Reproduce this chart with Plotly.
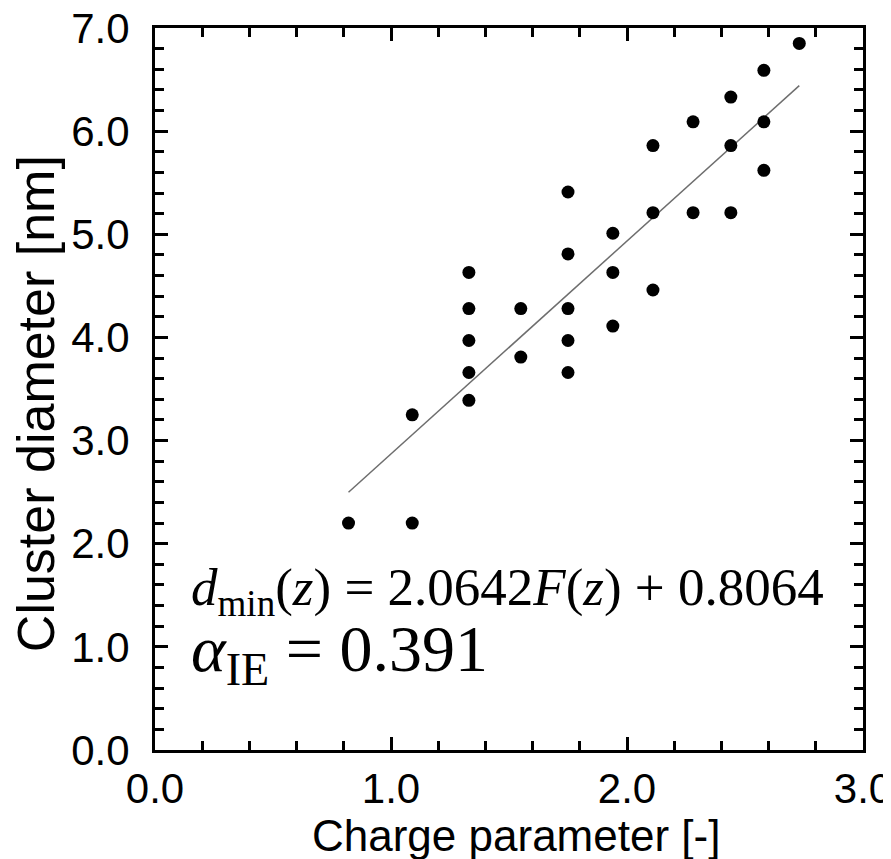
import plotly.graph_objects as go

# Data
charge = [0.82,
          1.09, 1.09,
          1.33, 1.33, 1.33, 1.33, 1.33,
          1.55, 1.55,
          1.75, 1.75, 1.75, 1.75, 1.75,
          1.94, 1.94, 1.94,
          2.11, 2.11, 2.11,
          2.28, 2.28,
          2.44, 2.44, 2.44,
          2.58, 2.58, 2.58,
          2.73]
diameter = [2.20,
            2.20, 3.25,
            3.39, 3.66, 3.97, 4.28, 4.63,
            3.81, 4.28,
            3.66, 3.97, 4.28, 4.81, 5.41,
            4.11, 4.63, 5.01,
            4.46, 5.21, 5.86,
            5.21, 6.09,
            5.21, 5.86, 6.33,
            5.62, 6.09, 6.59,
            6.85]

slope = 2.0642
intercept = 0.8064
fit_x = [0.82, 2.73]
fit_y = [slope * v + intercept for v in fit_x]

tick_vals = [0, 1, 2, 3]
tick_text = ["0.0", "1.0", "2.0", "3.0"]
ytick_vals = [0, 1, 2, 3, 4, 5, 6, 7]
ytick_text = ["0.0", "1.0", "2.0", "3.0", "4.0", "5.0", "6.0", "7.0"]

x_title = "Charge parameter [-]"
y_title = "Cluster diameter [nm]"

SANS = "Liberation Sans, Arial, sans-serif"
SERIF = "Liberation Serif, Times New Roman, serif"

fig = go.Figure()
fig.add_trace(go.Scatter(x=fit_x, y=fit_y, mode="lines",
                         line=dict(color="#6e6e6e", width=1.5),
                         showlegend=False, hoverinfo="skip"))
fig.add_trace(go.Scatter(x=charge, y=diameter, mode="markers",
                         marker=dict(color="black", size=13),
                         showlegend=False))

axis_common = dict(
    showline=True, linecolor="black", linewidth=3, mirror="ticks",
    ticks="inside", ticklen=13, tickwidth=3, tickcolor="black",
    showgrid=False, zeroline=False, automargin=False,
    ticklabeloverflow="allow",
    tickfont=dict(family=SANS, size=42, color="black"),
    minor=dict(dtick=0.2, ticks="inside", ticklen=9, tickwidth=3, tickcolor="black", showgrid=False),
)

fig.update_xaxes(range=[0, 3], tickvals=tick_vals, ticktext=tick_text,
                 ticklabelstandoff=0, **axis_common)
fig.update_yaxes(range=[0, 7], tickvals=ytick_vals, ticktext=ytick_text,
                 ticklabelstandoff=14, **axis_common)

# axis titles
fig.add_annotation(x=0.51, y=0, xref="paper", yref="paper",
                   xanchor="center", yanchor="middle", yshift=-85, showarrow=False,
                   text=x_title, font=dict(family=SANS, size=44, color="black"))
fig.add_annotation(x=0, y=0.479, xref="paper", yref="paper",
                   xanchor="center", yanchor="middle", xshift=-119, showarrow=False,
                   textangle=-90,
                   text=y_title, font=dict(family=SANS, size=52, color="black"))

# equation texts
fig.add_annotation(x=0.048, y=0.22, xref="paper", yref="paper",
                   xanchor="left", yanchor="middle", showarrow=False,
                   text="<i>d</i><sub>min</sub>(<i>z</i>) = 2.0642<i>F</i>(<i>z</i>) + 0.8064",
                   font=dict(family=SERIF, size=53, color="black"))
fig.add_annotation(x=0.048, y=0.134, xref="paper", yref="paper",
                   xanchor="left", yanchor="middle", showarrow=False,
                   text="<i>α</i><sub>IE</sub> = 0.391",
                   font=dict(family=SERIF, size=66, color="black"))

fig.update_layout(width=891, height=859,
                  margin=dict(l=147, r=36, t=20, b=117),
                  plot_bgcolor="white", paper_bgcolor="white")

fig.write_html("out.html")
